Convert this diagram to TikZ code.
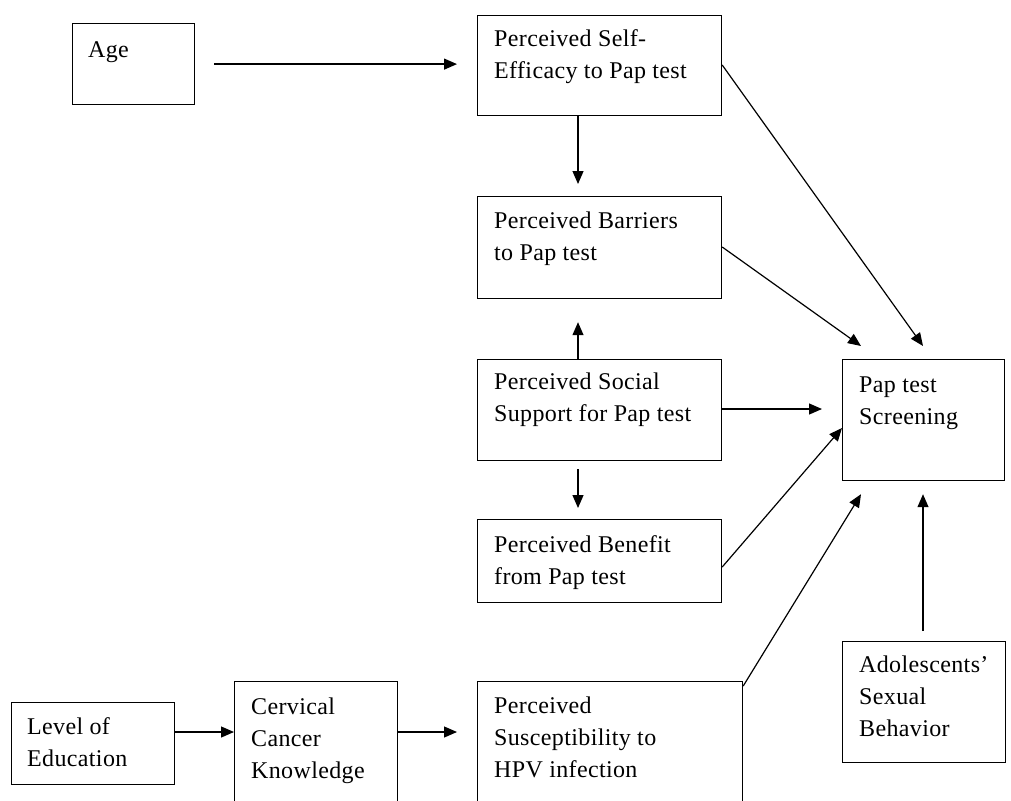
\documentclass[tikz,border=0pt]{standalone}
\usepackage{fontspec}
\setmainfont[LetterSpace=1.5]{Liberation Serif}
\usetikzlibrary{arrows.meta,calc}
\begin{document}
\begin{tikzpicture}[x=1pt,y=-1pt,
  box/.style={draw, line width=1.2pt, rectangle, inner sep=0pt, anchor=north west},
  txt/.style={anchor=north west, inner sep=0pt, align=left, font=\fontsize{24}{32}\selectfont},
  arr/.style={line width=1.2pt, -{Triangle[length=13pt,width=11pt]}}]
\useasboundingbox (0,0) rectangle (1011,800);
\fill[white] (0,0) rectangle (1011,800);
\clip (0,0) rectangle (1011,800);
% boxes
\node[box, minimum width=122pt, minimum height=81pt] (age) at (72,23) {};
\node[box, minimum width=244pt, minimum height=100pt] (se) at (477,15) {};
\node[box, minimum width=244pt, minimum height=102pt] (bar) at (477,196) {};
\node[box, minimum width=244pt, minimum height=101pt] (soc) at (477,359) {};
\node[box, minimum width=244pt, minimum height=83pt] (ben) at (477,519) {};
\node[box, minimum width=162pt, minimum height=121pt] (pap) at (842,359) {};
\node[box, minimum width=163pt, minimum height=121pt] (ado) at (842,641) {};
\node[box, minimum width=163pt, minimum height=82pt] (edu) at (11,702) {};
\node[box, minimum width=163pt, minimum height=130pt] (cck) at (234,681) {};
\node[box, minimum width=265pt, minimum height=130pt] (sus) at (477,681) {};
% texts
\node[txt] (age-t) at ($(age.north west)+(16,16)$) {\rule{0pt}{18pt}Age};
\node[txt] (se-t) at ($(se.north west)+(17,13)$) {\rule{0pt}{18pt}Perceived Self-\\Efficacy to Pap test};
\node[txt] (bar-t) at ($(bar.north west)+(17,14)$) {\rule{0pt}{18pt}Perceived Barriers\\to Pap test};
\node[txt] (soc-t) at ($(soc.north west)+(17,12)$) {\rule{0pt}{18pt}Perceived Social\\Support for Pap test};
\node[txt] (ben-t) at ($(ben.north west)+(17,15)$) {\rule{0pt}{18pt}Perceived Benefit\\from Pap test};
\node[txt] (pap-t) at ($(pap.north west)+(17,15)$) {\rule{0pt}{18pt}Pap test\\Screening};
\node[txt] (ado-t) at ($(ado.north west)+(17,13)$) {\rule{0pt}{18pt}Adolescents’\\Sexual\\Behavior};
\node[txt] (edu-t) at ($(edu.north west)+(16,14)$) {\rule{0pt}{18pt}Level of\\Education};
\node[txt] (cck-t) at ($(cck.north west)+(17,15)$) {\rule{0pt}{18pt}Cervical\\Cancer\\Knowledge};
\node[txt] (sus-t) at ($(sus.north west)+(17,14)$) {\rule{0pt}{18pt}Perceived\\Susceptibility to\\HPV infection};
% connector end points
\coordinate (se-b) at ($(se.south west)+(101,0)$);
\coordinate (soc-top) at ($(soc.north west)+(101,0)$);
\coordinate (soc-bot) at ($(soc.south west)+(101,0)$);
\coordinate (soc-r) at ($(soc.north east)+(0,50)$);
\coordinate (se-r) at ($(se.north east)+(0,50)$);
\coordinate (bar-r) at ($(bar.north east)+(0,51)$);
\coordinate (ben-r) at ($(ben.north east)+(0,48)$);
\coordinate (sus-r) at ($(sus.north east)+(0,5)$);
\coordinate (ado-t0) at ($(ado.north west)+(81,-10)$);
\coordinate (edu-r) at ($(edu.north east)+(0,30)$);
\coordinate (cck-r) at ($(cck.north east)+(0,51)$);
\coordinate (p1) at ($(pap.north west)+(81,-13)$);
\coordinate (p2) at ($(pap.north west)+(19,-13)$);
\coordinate (p3) at ($(pap.north west)+(0,69)$);
\coordinate (p4) at ($(pap.south west)+(19,13)$);
\coordinate (p5) at ($(pap.south west)+(81,13)$);
% connectors
\draw[arr, shorten <=19pt, shorten >=20pt] (age.east) -- (age.east -| se.west);
\draw[arr, shorten >=12pt] (se-b) -- (se-b |- bar.north);
\draw[arr, shorten >=23pt] (soc-top) -- (soc-top |- bar.south);
\draw[arr, shorten <=8pt, shorten >=11pt] (soc-bot) -- (soc-bot |- ben.north);
\draw[arr, shorten >=20pt] (soc-r) -- (soc-r -| pap.west);
\draw[arr] (se-r) -- (p1);
\draw[arr] (bar-r) -- (p2);
\draw[arr] (ben-r) -- (p3);
\draw[arr] (sus-r) -- (p4);
\draw[arr] (ado-t0) -- (p5);
\draw[arr] (edu-r) -- (edu-r -| cck.west);
\draw[arr, shorten >=20pt] (cck-r) -- (cck-r -| sus.west);
\end{tikzpicture}
\end{document}
